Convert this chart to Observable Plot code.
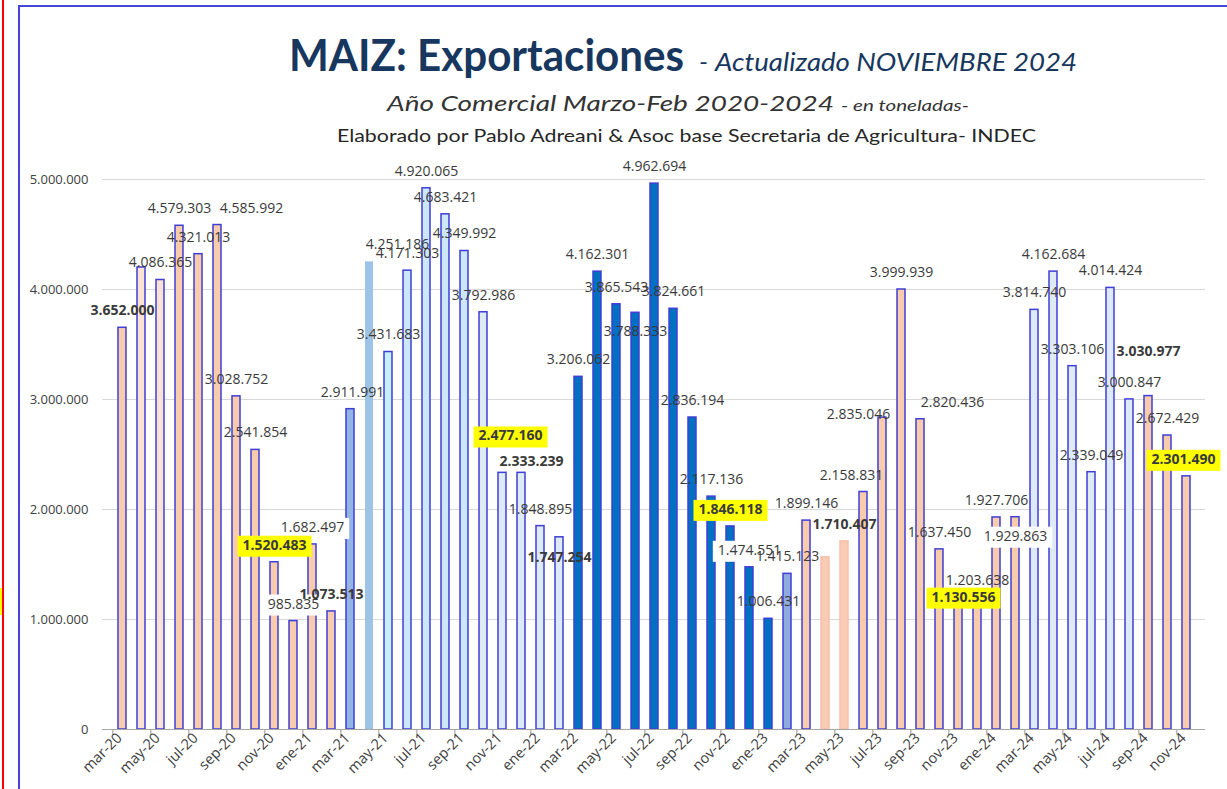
<!DOCTYPE html>
<html><head><meta charset="utf-8">
<script src="https://cdn.jsdelivr.net/npm/d3@7"></script>
<script src="https://cdn.jsdelivr.net/npm/@observablehq/plot@0.6"></script>
<style>
body{margin:0;background:#fff;width:1227px;height:789px;overflow:hidden;position:relative;font-family:"Open Sans",sans-serif}
#frame{position:absolute;left:18px;top:5px;width:1300px;height:900px;border-left:2px solid #4646d4;border-top:2px solid #4646d4}
#redline{position:absolute;left:2px;top:0;width:2px;height:789px;background:#ff0000}
#yel{position:absolute;left:0;top:588px;width:2px;height:27px;background:#ffff00}
#chart{position:absolute;left:0;top:0}
#titles{position:absolute;left:0;top:0}
</style></head><body>
<div id="frame"></div>
<div id="redline"></div>
<div id="yel"></div>
<div id="chart"></div>
<svg id="titles" width="1227" height="160">
  <text x="289" y="71" font-family="Lato" font-weight="700" font-size="43" fill="#17375e" textLength="395" lengthAdjust="spacingAndGlyphs">MAIZ: Exportaciones</text>
  <text x="699" y="71" font-family="Lato" font-style="italic" font-size="26" fill="#17375e">-</text>
  <text x="715" y="71" font-family="Lato" font-style="italic" font-size="26" fill="#17375e" textLength="362" lengthAdjust="spacingAndGlyphs">Actualizado NOVIEMBRE 2024</text>
  <text x="387" y="111" font-family="Lato" font-style="italic" font-size="21" fill="#333" textLength="447" lengthAdjust="spacingAndGlyphs">Año Comercial Marzo-Feb 2020-2024</text>
  <text x="841" y="111" font-family="Lato" font-style="italic" font-size="15" fill="#333" textLength="128" lengthAdjust="spacingAndGlyphs">- en toneladas-</text>
  <text x="337" y="142" font-family="Lato" font-size="18" fill="#262626" textLength="699" lengthAdjust="spacingAndGlyphs">Elaborado por Pablo Adreani &amp; Asoc base Secretaria  de Agricultura- INDEC</text>
</svg>
<script>
// ---- data ----
const months = [
  "mar-20","abr-20","may-20","jun-20","jul-20","ago-20","sep-20","oct-20","nov-20","dic-20","ene-21","feb-21",
  "mar-21","abr-21","may-21","jun-21","jul-21","ago-21","sep-21","oct-21","nov-21","dic-21","ene-22","feb-22",
  "mar-22","abr-22","may-22","jun-22","jul-22","ago-22","sep-22","oct-22","nov-22","dic-22","ene-23","feb-23",
  "mar-23","abr-23","may-23","jun-23","jul-23","ago-23","sep-23","oct-23","nov-23","dic-23","ene-24","feb-24",
  "mar-24","abr-24","may-24","jun-24","jul-24","ago-24","sep-24","oct-24","nov-24"
];
const values = [
  3652000, 4200000, 4086365, 4579303, 4321013, 4585992, 3028752, 2541854, 1520483, 985835, 1682497, 1073513,
  2911991, 4251186, 3431683, 4171303, 4920065, 4683421, 4349992, 3792986, 2333239, 2333239, 1848895, 1747254,
  3206062, 4162301, 3865543, 3788333, 4962694, 3824661, 2836194, 2117136, 1846118, 1474551, 1006431, 1415123,
  1899146, 1565000, 1710407, 2158831, 2835046, 3999939, 2820436, 1637450, 1130556, 1203638, 1927706, 1929863,
  3814740, 4162684, 3303106, 2339049, 4014424, 3000847, 3030977, 2672429, 2301490
];
const labelValues = [
  3652000, null, 4086365, 4579303, 4321013, 4585992, 3028752, 2541854, 1520483, 985835, 1682497, 1073513,
  2911991, 4251186, 3431683, 4171303, 4920065, 4683421, 4349992, 3792986, 2477160, 2333239, 1848895, 1747254,
  3206062, 4162301, 3865543, 3788333, 4962694, 3824661, 2836194, 2117136, 1846118, 1474551, 1006431, 1415123,
  1899146, null, 1710407, 2158831, 2835046, 3999939, 2820436, 1637450, 1130556, 1203638, 1927706, 1929863,
  3814740, 4162684, 3303106, 2339049, 4014424, 3000847, 3030977, 2672429, 2301490
];
const yTicks = [0, 1000000, 2000000, 3000000, 4000000, 5000000];
const xTickMonths = months.filter((d, i) => i % 2 === 0);

// ---- styles (kept apart from data) ----
const B = "#3f3fd6";
const segments = [
  [1,"#f8cbad",B],[2,"#fbe3d3",B],[9,"#f8cbad",B],
  [1,"#95b4e6",B],[1,"#9dc3e6",null],[1,"#c8effd",B],[4,"#cce6fa",B],[5,"#deebf7",B],
  [11,"#0070c0",B],[1,"#8faadc",B],
  [1,"#f8cbad",B],[2,"#f9cab4","#f6c0aa"],[9,"#f8cbad",B],
  [6,"#deebf7",B],[3,"#f8cbad",B]
];
const barFill = [], barStroke = [];
for (const [n, f, s] of segments) for (let k = 0; k < n; k++) { barFill.push(f); barStroke.push(s || "none"); }
const boldLabels = new Set(["mar-20","feb-21","dic-21","feb-22","may-23","sep-24"]);
const yellowLabels = new Set(["nov-20","nov-21","nov-22","nov-23","nov-24"]);
const whiteLabels = new Set(["dic-20","ene-21","dic-22","feb-24"]);
const labelShift = {
  "ago-20":[34,0], "mar-21":[2,0], "abr-21":[28,0], "nov-21":[8,-4], "dic-21":[10,6],
  "feb-22":[0,37], "jun-22":[0,36], "jun-23":[-12,0], "jul-23":[-24,14], "sep-23":[32,0],
  "nov-23":[5,9], "feb-24":[0,36], "sep-24":[0,-28], "nov-24":[-3,0]
};

const fmt = d3.formatLocale({thousands: ".", grouping: [3], decimal: ","}).format(",d");
const bars = months.map((m, i) => ({month: m, value: values[i], fill: barFill[i], stroke: barStroke[i]}));

const W = 1227, H = 789, mL = 102, mR = 22, mT = 179, mB = 60;
const step = (W - mL - mR) / months.length;

function labelMark(m, i, cls) {
  const [dx, dy] = labelShift[m] || [0, 0];
  return Plot.text([{month: m, v: labelValues[i]}], {
    x: "month", y: "v", text: d => fmt(d.v),
    dx, dy: -17 + dy,
    fontSize: 14, fill: "#3a3a3a",
    fontWeight: (boldLabels.has(m) || yellowLabels.has(m)) ? "bold" : "normal",
    className: cls
  });
}
const whiteMarks = [], normalMarks = [], yellowMarks = [];
months.forEach((m, i) => {
  if (labelValues[i] == null) return;
  if (yellowLabels.has(m)) yellowMarks.push(labelMark(m, i, "lbl-yellow"));
  else if (whiteLabels.has(m)) whiteMarks.push(labelMark(m, i, "lbl-white"));
  else normalMarks.push(labelMark(m, i, "lbl-normal"));
});

const chart = Plot.plot({
  width: W, height: H,
  marginLeft: mL, marginRight: mR, marginTop: mT, marginBottom: mB,
  style: {background: "transparent", fontFamily: "Open Sans, sans-serif"},
  x: {type: "band", domain: months, paddingInner: 0.58, paddingOuter: 0.29},
  y: {domain: [0, 5000000]},
  marks: [
    Plot.gridY(yTicks.slice(1), {stroke: "#d9d9d9", strokeOpacity: 1, strokeWidth: 1.2}),
    Plot.axisY({ticks: yTicks, tickFormat: fmt, tickSize: 0, tickPadding: 14, fontSize: 13, fill: "#404040", label: null}),
    Plot.barY(bars, {x: "month", y: "value", fill: "fill", stroke: "stroke", strokeWidth: 1.5}),
    Plot.ruleY([0], {stroke: "#a6a6a6", strokeWidth: 1.2}),
    Plot.ruleX(xTickMonths, {x: d => d, y1: 0, y2: 0, dx: -step / 2, insetBottom: -6, stroke: "#a6a6a6", strokeWidth: 1.2}),
    Plot.axisX({ticks: xTickMonths, tickSize: 0, tickPadding: 6, dx: -3, tickRotate: -45, fontSize: 14.5, fill: "#404040", label: null}),
    ...whiteMarks,
    ...normalMarks,
    ...yellowMarks
  ]
});
document.getElementById("chart").appendChild(chart);

function boxes(cls, color) {
  d3.select(chart).selectAll("g." + cls + " text").each(function () {
    const b = this.getBBox();
    const t = this.getAttribute("transform");
    const r = document.createElementNS("http://www.w3.org/2000/svg", "rect");
    r.setAttribute("x", b.x - 5); r.setAttribute("y", b.y + 1);
    r.setAttribute("width", b.width + 10); r.setAttribute("height", b.height + 2);
    r.setAttribute("fill", color);
    if (t) r.setAttribute("transform", t);
    this.parentNode.insertBefore(r, this);
  });
}
boxes("lbl-white", "#ffffff");
boxes("lbl-yellow", "#ffff00");
</script>
</body></html>
